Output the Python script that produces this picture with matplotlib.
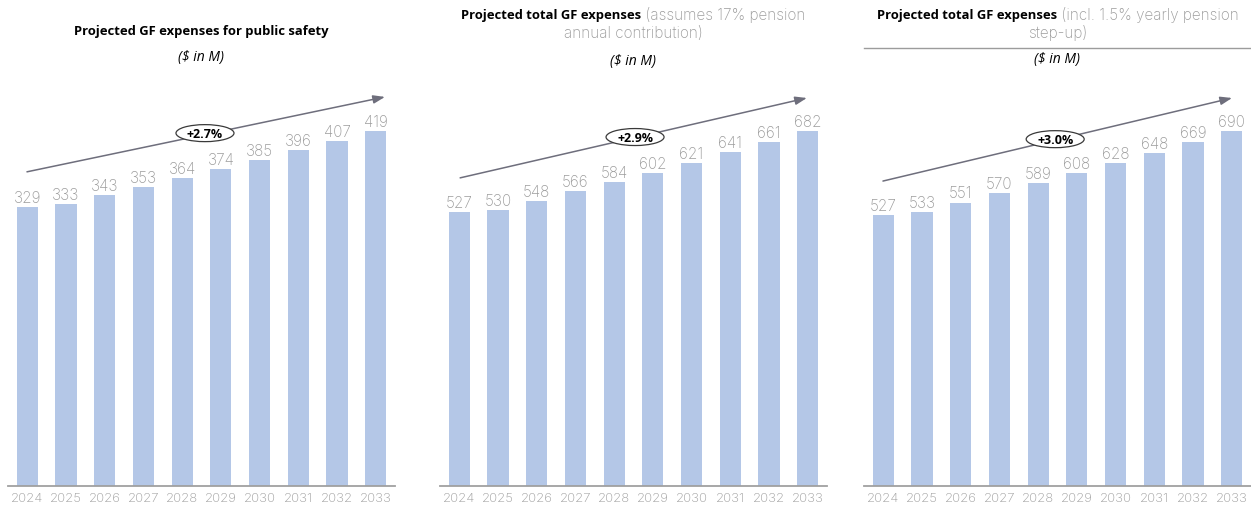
import matplotlib
matplotlib.use("Agg")
import matplotlib.pyplot as plt
from matplotlib.patches import Ellipse

# ---- data ----
years = [str(y) for y in range(2024, 2034)]
public_safety = [329, 333, 343, 353, 364, 374, 385, 396, 407, 419]
total_17pct = [527, 530, 548, 566, 584, 602, 621, 641, 661, 682]
total_stepup = [527, 533, 551, 570, 589, 608, 628, 648, 669, 690]
growth_labels = ["+2.7%", "+2.9%", "+3.0%"]

titles_bold = ["Projected GF expenses for public safety",
               "Projected total GF expenses",
               "Projected total GF expenses"]
titles_light = [None,
                ["(assumes 17% pension", "annual contribution)"],
                ["(incl. 1.5% yearly pension", "step-up)"]]
unit_label = "($ in M)"

# ---- style ----
BAR = "#B4C7E7"
GREY = "#9C9C9C"
AXIS = "#A0A0A0"
ARROW = "#6E6E7C"
BOLD_FONT = "Open Sans"
LIGHT_FONT = "Inter"

W, H = 1251, 506
fig = plt.figure(figsize=(W / 100, H / 100), dpi=100)

lefts = [8, 440, 864]
ax_w, ax_b, ax_h = 387, 19, 355

series = [public_safety, total_17pct, total_stepup]
arrows = [((0.049, 0.885), (0.974, 1.096)),
          ((0.052, 0.868), (0.948, 1.093)),
          ((0.049, 0.859), (0.951, 1.093))]
badges = [(0.509, 0.994), (0.504, 0.983), (0.494, 0.977)]

renderer = fig.canvas.get_renderer()


def px(x, y):
    """figure pixel (from top-left) -> figure fraction"""
    return x / W, 1 - y / H


def mixed_line(cx, y, bold, light, size_b=9.4, size_l=11):
    parts = []
    if bold:
        parts.append(fig.text(0, 0, bold, fontsize=size_b, fontweight="bold",
                              family=BOLD_FONT, color="black", va="center", ha="left"))
    if light:
        txt = (" " + light) if bold else light
        parts.append(fig.text(0, 0, txt, fontsize=size_l, fontweight="light",
                              family=LIGHT_FONT, color=GREY, va="center", ha="left"))
    widths = [p.get_window_extent(renderer).width for p in parts]
    x = cx - sum(widths) / 2
    for p, w in zip(parts, widths):
        p.set_position(px(x, y))
        x += w


for i, vals in enumerate(series):
    l = lefts[i]
    ax = fig.add_axes([l / W, ax_b / H, ax_w / W, ax_h / H])
    xs = range(len(years))
    bars = ax.bar(xs, vals, width=0.55, color=BAR)
    ax.set_xlim(-0.5, len(years) - 0.5)
    ax.set_ylim(0, max(vals))
    for rect, v in zip(bars, vals):
        ax.annotate(f"{v}", (rect.get_x() + rect.get_width() / 2, v),
                    xytext=(0, 1.5), textcoords="offset points",
                    ha="center", va="bottom", fontsize=11, color=GREY,
                    family=LIGHT_FONT, fontweight="light", annotation_clip=False)
    ax.set_xticks(list(xs))
    ax.set_xticklabels(years, fontsize=9.5, color=GREY, family=LIGHT_FONT,
                       fontweight="light")
    ax.tick_params(axis="x", length=0, pad=4)
    ax.set_yticks([])
    for s in ["top", "left", "right"]:
        ax.spines[s].set_visible(False)
    ax.spines["bottom"].set_color(AXIS)
    ax.spines["bottom"].set_linewidth(1.3)
    ax.patch.set_alpha(0)

    (x0, y0), (x1, y1) = arrows[i]
    ax.annotate("", xy=(x1, y1), xytext=(x0, y0), xycoords="axes fraction",
                textcoords="axes fraction", annotation_clip=False,
                arrowprops=dict(arrowstyle="-|>,head_length=0.7,head_width=0.25",
                                color=ARROW, lw=1.1, shrinkA=0, shrinkB=0))
    bx, by = badges[i]
    ax.add_patch(Ellipse((bx, by), 58 / ax_w, 17 / ax_h, transform=ax.transAxes,
                         facecolor="white", edgecolor="#3A3A3A", lw=0.9,
                         clip_on=False, zorder=5))
    ax.text(bx, by, growth_labels[i], transform=ax.transAxes, ha="center",
            va="center", fontsize=9, fontweight="bold", family=BOLD_FONT,
            color="black", zorder=6)

    cx = l + ax_w / 2
    if titles_light[i] is None:
        mixed_line(cx, 31, titles_bold[i], None)
        unit_y = 58
    else:
        mixed_line(cx, 15, titles_bold[i], titles_light[i][0])
        mixed_line(cx, 33, None, titles_light[i][1])
        unit_y = 61 if i == 1 else 60
    fig.text(*px(cx, unit_y), unit_label, ha="center", va="center", fontsize=10,
             style="italic", family=BOLD_FONT, color="black")

# rule under the third title
fig.add_artist(plt.Line2D([864 / W, 1.0], [1 - 48.5 / H] * 2, color=GREY, lw=1.0))

fig.savefig("out.png", dpi=100)
